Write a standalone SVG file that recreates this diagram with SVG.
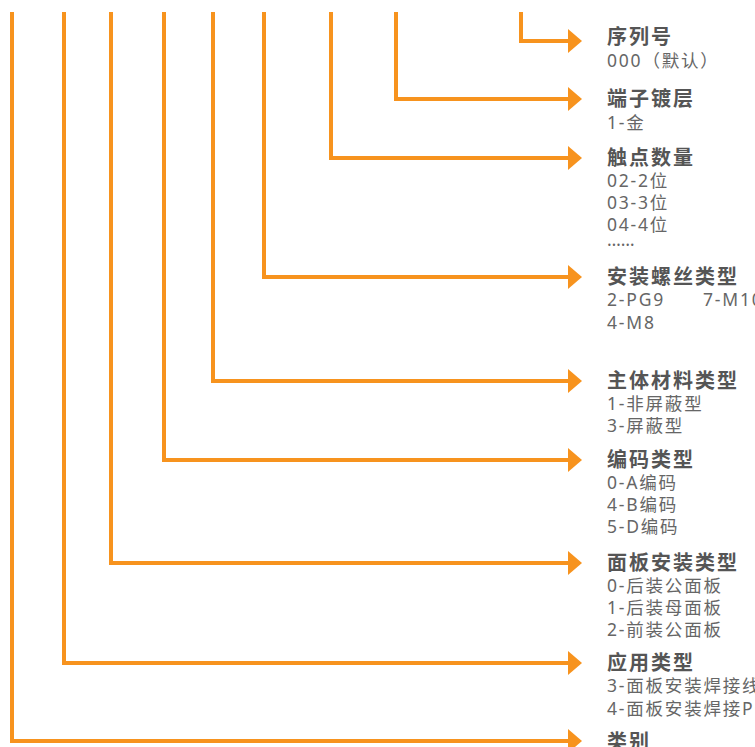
<svg xmlns="http://www.w3.org/2000/svg" width="755" height="747" viewBox="0 0 755 747">
<defs>
<style>
.c{fill:none;stroke:#F7931E;stroke-width:4;stroke-linejoin:miter;stroke-linecap:butt}
.a{fill:#F7931E}
.h{font-family:"Noto Sans","Noto Sans CJK SC",sans-serif;font-size:20px;font-weight:bold;fill:#555555;letter-spacing:2px}
.s{font-family:"Noto Sans","Noto Sans CJK SC",sans-serif;font-size:17.5px;fill:#666666;letter-spacing:1.8px}
</style>
</defs>
<rect width="755" height="747" fill="#ffffff"/>
<g id="connectors">
<polyline class="c" points="521,12 521,41 569,41"/><polygon class="a" points="568,29 582,41 568,53"/>
<polyline class="c" points="396,12 396,99 569,99"/><polygon class="a" points="568,87 582,99 568,111"/>
<polyline class="c" points="331,12 331,158 569,158"/><polygon class="a" points="568,146 582,158 568,170"/>
<polyline class="c" points="264,12 264,277 569,277"/><polygon class="a" points="568,265 582,277 568,289"/>
<polyline class="c" points="213,12 213,381 569,381"/><polygon class="a" points="568,369 582,381 568,393"/>
<polyline class="c" points="164,12 164,460 569,460"/><polygon class="a" points="568,448 582,460 568,472"/>
<polyline class="c" points="111,12 111,563 569,563"/><polygon class="a" points="568,551 582,563 568,575"/>
<polyline class="c" points="64,12 64,663 569,663"/><polygon class="a" points="568,651 582,663 568,675"/>
<polyline class="c" points="12,12 12,741 569,741"/><polygon class="a" points="568,729 582,741 568,753"/>
</g>
<g id="serial"><text class="h" x="607" y="44">序列号</text><text class="s" x="607" y="67">000（默认）</text></g>
<g id="plating"><text class="h" x="607" y="106">端子镀层</text><text class="s" x="607" y="129">1-金</text></g>
<g id="contacts"><text class="h" x="607" y="165">触点数量</text><text class="s" x="607" y="187">02-2位</text><text class="s" x="607" y="209">03-3位</text><text class="s" x="607" y="231">04-4位</text><text class="s" x="607" y="246" style="letter-spacing:0">……</text></g>
<g id="screw"><text class="h" x="607" y="284">安装螺丝类型</text><text class="s" x="607" y="306">2-PG9</text><text class="s" x="703" y="306">7-M10</text><text class="s" x="607" y="329">4-M8</text></g>
<g id="material"><text class="h" x="607" y="388">主体材料类型</text><text class="s" x="607" y="410">1-非屏蔽型</text><text class="s" x="607" y="432">3-屏蔽型</text></g>
<g id="coding"><text class="h" x="607" y="467">编码类型</text><text class="s" x="607" y="489">0-A编码</text><text class="s" x="607" y="511">4-B编码</text><text class="s" x="607" y="533">5-D编码</text></g>
<g id="panel"><text class="h" x="607" y="570">面板安装类型</text><text class="s" x="607" y="592">0-后装公面板</text><text class="s" x="607" y="614">1-后装母面板</text><text class="s" x="607" y="636">2-前装公面板</text></g>
<g id="application"><text class="h" x="607" y="670">应用类型</text><text class="s" x="607" y="692">3-面板安装焊接线</text><text class="s" x="607" y="715">4-面板安装焊接PCB</text></g>
<g id="category"><text class="h" x="607" y="749">类别</text></g>
</svg>
